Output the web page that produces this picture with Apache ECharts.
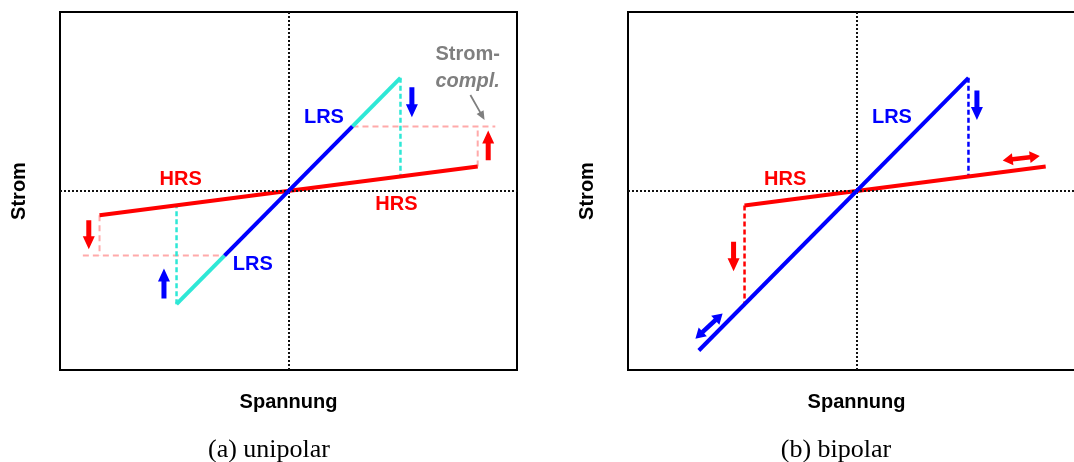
<!DOCTYPE html>
<html>
<head>
<meta charset="utf-8">
<script src="https://cdn.jsdelivr.net/npm/echarts@6/dist/echarts.min.js"></script>
<style>
  html, body { margin: 0; padding: 0; background: #fff; }
  #chart { width: 1074px; height: 462px; }
</style>
</head>
<body>
<div id="chart"></div>
<script>
// Schematic I-V curves of resistive switching, arbitrary units (both axes span -10..10).

// ---- (a) unipolar ----
const hrsUnipolar = [[-8.27, -1.36], [8.28, 1.37]];
const lrsUnipolar = [[-2.8, -3.61], [2.8, 3.61]];
const lrsLimitedUnipolar = [
  [[-4.9, -6.32], [-2.8, -3.61]],
  [[2.8, 3.61], [4.9, 6.32]]
];
const switchingUnipolar = [
  [[-4.9, -6.32], [-4.9, -0.81]],
  [[4.9, 6.32], [4.9, 0.81]]
];
const complianceUnipolar = [
  [[-9.0, -3.61], [-2.8, -3.61]],
  [[-8.27, -1.36], [-8.27, -3.61]],
  [[2.8, 3.61], [9.05, 3.61]],
  [[8.28, 1.37], [8.28, 3.61]]
];
const redArrowsUnipolar = [[-8.74, -1.64, -8.74, -3.25], [8.74, 1.72, 8.74, 3.38]];
const blueArrowsUnipolar = [[5.4, 5.8, 5.4, 4.12], [-5.45, -6.0, -5.45, -4.33]];
const calloutArrowUnipolar = [[7.96, 5.36, 8.58, 3.97]];
const labelsUnipolar = [
  { text: 'HRS', at: [-4.72, 0.64], kind: 'hrs' },
  { text: 'HRS', at: [4.72, -0.74], kind: 'hrs' },
  { text: 'LRS', at: [1.55, 4.1], kind: 'lrs' },
  { text: 'LRS', at: [-1.56, -4.1], kind: 'lrs' },
  { text: 'Strom-', at: [7.84, 7.6], kind: 'note' },
  { text: 'compl.', at: [7.84, 6.1], kind: 'noteItalic' }
];

// ---- (b) bipolar ----
const hrsBipolar = [[-4.9, -0.81], [8.28, 1.37]];
const lrsBipolar = [[-6.9, -8.91], [4.9, 6.32]];
const resetBipolar = [[[-4.9, -0.81], [-4.9, -6.32]]];
const setBipolar = [[[4.9, 6.32], [4.9, 0.81]]];
const redArrowBipolar = [[-5.38, -2.83, -5.38, -4.48]];
const blueArrowBipolar = [[5.27, 5.62, 5.27, 3.96]];
const redSweepBipolar = [[6.4, 1.7, 8.02, 1.96]];
const blueSweepBipolar = [[-7.05, -8.25, -5.86, -6.84]];
const labelsBipolar = [
  { text: 'HRS', at: [-3.12, 0.66], kind: 'hrs' },
  { text: 'LRS', at: [1.55, 4.1], kind: 'lrs' }
];

const captions = ['(a) unipolar', '(b) bipolar'];
const xTitle = 'Spannung';
const yTitle = 'Strom';

// ---- styles ----
const RED = '#ff0000', BLUE = '#0000ff', CYAN = '#2ee8d6', PINK = '#ffaaaa', GRAY = '#7f7f7f';
const SANS = '"Liberation Sans", Arial, sans-serif';
const labelStyles = {
  hrs: { fill: RED, fontStyle: 'normal' },
  lrs: { fill: BLUE, fontStyle: 'normal' },
  note: { fill: GRAY, fontStyle: 'normal' },
  noteItalic: { fill: GRAY, fontStyle: 'italic' }
};

function arrowRenderer(opts) {
  return function (params, api) {
    const a = api.coord([api.value(0), api.value(1)]);
    const b = api.coord([api.value(2), api.value(3)]);
    const dx = b[0] - a[0], dy = b[1] - a[1];
    const len = Math.hypot(dx, dy);
    const ux = dx / len, uy = dy / len, nx = -uy, ny = ux;
    const w = opts.shaft / 2, hw = opts.headWidth / 2, hl = opts.headLength;
    const P = (p, s, t) => [p[0] + ux * s + nx * t, p[1] + uy * s + ny * t];
    let pts;
    if (opts.double) {
      pts = [a, P(a, hl, hw), P(a, hl, w), P(b, -hl, w), P(b, -hl, hw), b,
             P(b, -hl, -hw), P(b, -hl, -w), P(a, hl, -w), P(a, hl, -hw)];
    } else {
      pts = [P(a, 0, w), P(b, -hl, w), P(b, -hl, hw), b,
             P(b, -hl, -hw), P(b, -hl, -w), P(a, 0, -w)];
    }
    return { type: 'polygon', shape: { points: pts }, style: { fill: opts.color } };
  };
}

function arrowSeries(idx, data, opts) {
  return {
    type: 'custom', xAxisIndex: idx, yAxisIndex: idx, z: 6,
    dimensions: ['x1', 'y1', 'x2', 'y2'],
    encode: { x: [0, 2], y: [1, 3] },
    data: data, renderItem: arrowRenderer(opts), silent: true
  };
}

function curveSeries(idx, data, color, z) {
  return {
    type: 'line', xAxisIndex: idx, yAxisIndex: idx, data: data,
    showSymbol: false, symbol: 'none', z: z || 4, silent: true,
    lineStyle: { color: color, width: 4, cap: 'butt' }
  };
}

function segmentSeries(idx, segs, color, width, dash, z) {
  return {
    type: 'lines', coordinateSystem: 'cartesian2d', xAxisIndex: idx, yAxisIndex: idx,
    polyline: true, z: z || 3, silent: true,
    lineStyle: { color: color, width: width, type: dash, opacity: 1 },
    data: segs.map(s => ({ coords: s }))
  };
}

// In-plot annotations, anchored at data coordinates
function labelSeries(idx, labels) {
  return {
    type: 'custom', xAxisIndex: idx, yAxisIndex: idx, z: 7, silent: true,
    dimensions: ['x', 'y'],
    encode: { x: 0, y: 1 },
    data: labels.map(l => l.at),
    renderItem: function (params, api) {
      const l = labels[params.dataIndex];
      const p = api.coord([api.value(0), api.value(1)]);
      const st = labelStyles[l.kind];
      return {
        type: 'text', x: p[0], y: p[1],
        style: {
          text: l.text, fill: st.fill, align: 'center', verticalAlign: 'middle',
          fontFamily: SANS, fontWeight: 'bold', fontSize: 20, fontStyle: st.fontStyle
        }
      };
    }
  };
}

function zeroLines(idx) {
  return {
    type: 'line', xAxisIndex: idx, yAxisIndex: idx, data: [], z: 1, silent: true,
    markLine: {
      silent: true, symbol: 'none', label: { show: false },
      lineStyle: { color: '#111', width: 2, type: [2, 2] },
      data: [{ xAxis: 0 }, { yAxis: 0 }]
    }
  };
}

const gridLefts = [60, 628];
const grids = gridLefts.map(l => ({
  left: l, top: 12, width: 457, height: 358,
  outerBoundsMode: 'none', containLabel: false,
  show: true, borderColor: '#000', borderWidth: 2, backgroundColor: 'transparent'
}));

const nameStyle = { fontFamily: SANS, fontWeight: 'bold', fontSize: 20, color: '#000' };
const xAxes = gridLefts.map((_, i) => ({
  type: 'value', gridIndex: i, min: -10, max: 10,
  axisLine: { show: false }, axisTick: { show: false }, axisLabel: { show: false }, splitLine: { show: false },
  name: xTitle, nameLocation: 'middle', nameGap: 22, nameTextStyle: nameStyle
}));
const yAxes = gridLefts.map((_, i) => ({
  type: 'value', gridIndex: i, min: -10, max: 10,
  axisLine: { show: false }, axisTick: { show: false }, axisLabel: { show: false }, splitLine: { show: false },
  name: yTitle, nameLocation: 'middle', nameGap: 31, nameRotate: 90, nameTextStyle: nameStyle
}));

const singleArrow = c => ({ color: c, shaft: 5, headWidth: 12, headLength: 13 });
const doubleArrow = c => ({ color: c, shaft: 4.5, headWidth: 12, headLength: 10, double: true });

const series = [
  // (a) unipolar
  zeroLines(0),
  segmentSeries(0, complianceUnipolar, PINK, 2, [6, 4], 2),
  segmentSeries(0, switchingUnipolar, CYAN, 2.5, [5, 3], 3),
  curveSeries(0, hrsUnipolar, RED, 4),
  curveSeries(0, lrsUnipolar, BLUE, 5),
  segmentSeries(0, lrsLimitedUnipolar, CYAN, 4, 'solid', 5),
  arrowSeries(0, redArrowsUnipolar, singleArrow(RED)),
  arrowSeries(0, blueArrowsUnipolar, singleArrow(BLUE)),
  arrowSeries(0, calloutArrowUnipolar, { color: GRAY, shaft: 1.8, headWidth: 8, headLength: 9 }),
  labelSeries(0, labelsUnipolar),
  // (b) bipolar
  zeroLines(1),
  segmentSeries(1, resetBipolar, RED, 2.5, [5, 3], 3),
  segmentSeries(1, setBipolar, BLUE, 2.5, [5, 3], 3),
  curveSeries(1, hrsBipolar, RED, 4),
  curveSeries(1, lrsBipolar, BLUE, 5),
  arrowSeries(1, redArrowBipolar, singleArrow(RED)),
  arrowSeries(1, blueArrowBipolar, singleArrow(BLUE)),
  arrowSeries(1, redSweepBipolar, doubleArrow(RED)),
  arrowSeries(1, blueSweepBipolar, doubleArrow(BLUE)),
  labelSeries(1, labelsBipolar)
];

const captionX = [269, 836];
const graphic = captions.map((t, i) => ({
  type: 'text', x: captionX[i], y: 450, silent: true,
  style: {
    text: t, fill: '#000', align: 'center', verticalAlign: 'middle',
    fontFamily: '"Liberation Serif", "Times New Roman", serif', fontSize: 26
  }
}));

const chart = echarts.init(document.getElementById('chart'), null, { renderer: 'canvas' });
chart.setOption({
  animation: false,
  backgroundColor: '#fff',
  grid: grids,
  xAxis: xAxes,
  yAxis: yAxes,
  series: series,
  graphic: graphic
});
</script>
</body>
</html>
